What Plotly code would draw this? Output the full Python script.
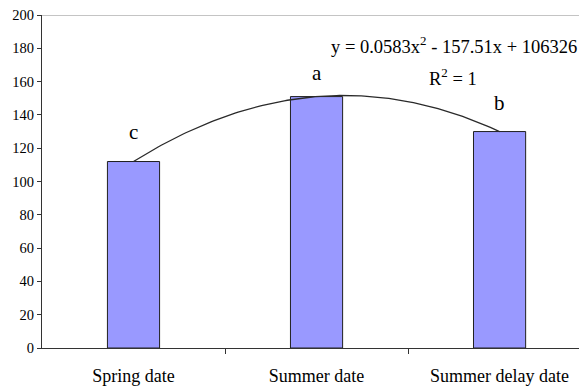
import numpy as np
import plotly.graph_objects as go

# Sowing date treatments and their mean values
categories = ["Spring date", "Summer date", "Summer delay date"]
values = [112, 151, 130]
letters = ["c", "a", "b"]
letter_heights = [130, 165, 147]
y_ticks = [0, 20, 40, 60, 80, 100, 120, 140, 160, 180, 200]

SERIF = "Liberation Serif"
pos = np.arange(len(categories))

# Second-order polynomial trend through the means
coef = np.polyfit(pos, values, 2)
xs = np.linspace(0, 2, 120)
ys = np.polyval(coef, xs)

fig = go.Figure()
fig.add_trace(go.Bar(
    x=pos, y=values, width=0.285,
    marker=dict(color="#9999ff", line=dict(color="#202020", width=1)),
    showlegend=False, hoverinfo="skip",
))
fig.add_trace(go.Scatter(
    x=xs, y=ys, mode="lines",
    line=dict(color="#2a2a2a", width=1.3),
    showlegend=False, hoverinfo="skip",
))
# invisible trace to activate the labelling axis
fig.add_trace(go.Scatter(x=[0], y=[0], xaxis="x2", mode="markers",
                         marker=dict(opacity=0), showlegend=False, hoverinfo="skip"))

for i, (lt, h) in enumerate(zip(letters, letter_heights)):
    fig.add_annotation(x=i, y=h, text=lt, showarrow=False,
                       font=dict(family=SERIF, size=21, color="black"))

fig.add_annotation(x=1.07, y=182, xanchor="left", yanchor="middle",
                   text="y = 0.0583x<sup>2</sup> - 157.51x + 106326",
                   showarrow=False, font=dict(family=SERIF, size=18.5, color="black"))
fig.add_annotation(x=1.745, y=163, xanchor="center", yanchor="middle",
                   text="R<sup>2</sup> = 1",
                   showarrow=False, font=dict(family=SERIF, size=18.5, color="black"))

# top border of the plot area
fig.add_shape(type="line", xref="paper", yref="y", x0=0, x1=1, y0=200, y1=200,
              line=dict(color="#8a8a8a", width=1))

xr = [-0.5, 2.434]
fig.update_layout(
    width=579, height=389,
    margin=dict(l=42, r=0, t=15, b=41),
    paper_bgcolor="white", plot_bgcolor="white",
    xaxis=dict(range=xr, tickvals=[0.5, 1.5], showticklabels=False,
               ticks="outside", ticklen=5, tickcolor="#333", tickwidth=1,
               showline=True, linecolor="#333", linewidth=1.3,
               showgrid=False, zeroline=False),
    xaxis2=dict(range=xr, overlaying="x", side="bottom",
                tickvals=list(pos), ticktext=categories, ticks="",
                tickfont=dict(family=SERIF, size=18, color="black"),
                ticklabelstandoff=15,
                showline=False, showgrid=False, zeroline=False),
    yaxis=dict(range=[0, 200], tickvals=y_ticks, ticks="outside", ticklen=4,
               tickcolor="#333", tickwidth=1,
               tickfont=dict(family=SERIF, size=14.5, color="black"),
               showline=True, linecolor="#333", linewidth=1.3,
               showgrid=False, zeroline=False),
)

fig.write_html("out.html")
